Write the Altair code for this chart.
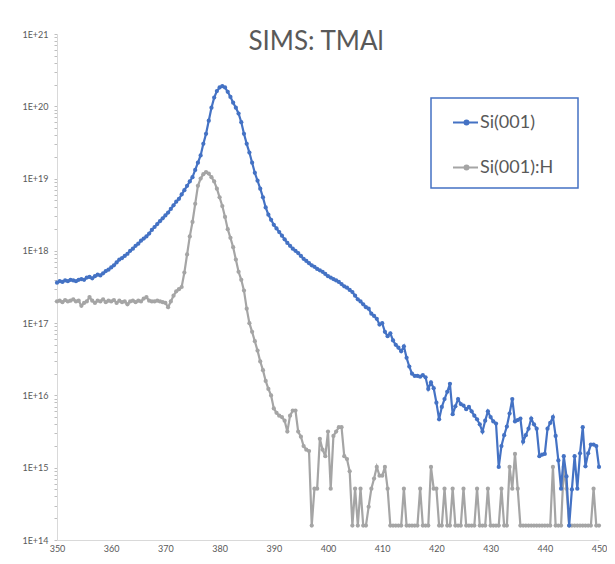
import altair as alt
import pandas as pd

# depth axis sampling: first depth and spacing of the measured points
START = 350
STEP = 0.5

series_names = ["Si(001)", "Si(001):H"]
series_colors = ["#4472C4", "#A5A5A5"]

# log10 of concentration, one value every 0.5 depth unit (350 .. 450)
blue_log = [
    17.56, 17.58, 17.57, 17.59, 17.58, 17.60, 17.59, 17.58, 17.60, 17.61,
    17.60, 17.63, 17.64, 17.62, 17.65, 17.67, 17.66, 17.69, 17.72, 17.74,
    17.77, 17.80, 17.84, 17.88, 17.90, 17.93, 17.96, 18.00, 18.03, 18.07,
    18.10, 18.14, 18.17, 18.20, 18.24, 18.29, 18.33, 18.37, 18.41, 18.45,
    18.49, 18.53, 18.58, 18.63, 18.68, 18.72, 18.78, 18.84, 18.90, 18.96,
    19.02, 19.12, 19.22, 19.32, 19.48, 19.62, 19.80, 19.98, 20.12, 20.21,
    20.26, 20.28, 20.26, 20.20, 20.13, 20.05, 19.98, 19.90, 19.78, 19.62,
    19.48, 19.36, 19.22, 19.08, 18.97, 18.86, 18.74, 18.60, 18.50, 18.43,
    18.36, 18.31, 18.26, 18.21, 18.16, 18.11, 18.07, 18.03, 18.00, 17.97,
    17.93, 17.89, 17.86, 17.83, 17.80, 17.78, 17.75, 17.73, 17.71, 17.68,
    17.65, 17.63, 17.61, 17.59, 17.57, 17.54, 17.51, 17.49, 17.46, 17.43,
    17.38, 17.33, 17.30, 17.26, 17.22, 17.20, 17.13, 17.10, 17.06, 16.98,
    17.00, 16.88, 16.82, 16.86, 16.76, 16.70, 16.66, 16.61, 16.68, 16.52,
    16.40, 16.30, 16.27, 16.27, 16.26, 16.28, 16.25, 16.09, 16.18, 16.10,
    15.90, 15.67, 15.84, 15.95, 16.05, 16.16, 15.74, 15.85, 15.95, 15.88,
    15.86, 15.81, 15.84, 15.78, 15.72, 15.67, 15.60, 15.50, 15.65, 15.78,
    15.70, 15.64, 15.61, 15.01, 15.30, 15.45, 15.57, 15.75, 15.95, 15.64,
    15.66, 15.68, 15.36, 15.45, 15.54, 15.68, 15.60, 15.54, 15.16, 15.18,
    15.19, 15.54, 15.62, 15.70, 15.44, 15.10, 14.71, 15.16, 14.88, 14.20,
    14.70, 15.16, 14.71, 15.20, 15.56, 15.02, 15.20, 15.32, 15.32, 15.30,
    15.01,
]

grey_log = [
    17.30, 17.31, 17.29, 17.32, 17.30, 17.31, 17.33, 17.30, 17.31, 17.24,
    17.28, 17.30, 17.36, 17.31, 17.28, 17.31, 17.30, 17.33, 17.29, 17.31,
    17.30, 17.32, 17.28, 17.31, 17.29, 17.30, 17.26, 17.30, 17.31, 17.29,
    17.31, 17.30, 17.34, 17.36, 17.31, 17.30, 17.30, 17.31, 17.30, 17.29,
    17.28, 17.22, 17.30, 17.38, 17.44, 17.47, 17.50, 17.70, 17.95, 18.20,
    18.40, 18.65, 18.90, 19.00, 19.06, 19.09, 19.07, 19.02, 18.96, 18.86,
    18.74, 18.62, 18.47, 18.30, 18.18, 18.05, 17.88, 17.71, 17.60, 17.45,
    17.20, 17.00, 16.88, 16.75, 16.62, 16.47, 16.35, 16.20, 16.09, 16.00,
    15.82, 15.76, 15.72, 15.70, 15.65, 15.50, 15.72, 15.79, 15.79, 15.50,
    15.43, 15.30, 15.25, 15.23, 14.20, 14.71, 14.71, 15.40, 15.25, 15.16,
    15.50, 14.71, 15.44, 15.50, 15.56, 15.56, 15.16, 15.12, 14.95, 14.20,
    14.71, 14.20, 14.71, 14.20, 14.20, 14.46, 14.71, 14.85, 15.01, 14.89,
    14.89, 15.01, 14.71, 14.20, 14.20, 14.20, 14.20, 14.20, 14.71, 14.20,
    14.20, 14.20, 14.20, 14.20, 14.71, 14.20, 14.20, 14.20, 15.01, 14.71,
    14.71, 14.20, 14.20, 14.71, 14.20, 14.20, 14.71, 14.20, 14.20, 14.20,
    14.71, 14.20, 14.20, 14.20, 14.20, 14.71, 14.20, 14.20, 14.20, 14.71,
    14.20, 14.20, 14.20, 14.20, 14.71, 14.20, 14.20, 15.01, 14.71, 15.19,
    14.71, 14.20, 14.20, 14.20, 14.20, 14.20, 14.20, 14.20, 14.20, 14.20,
    14.20, 14.20, 14.20, 15.01, 14.20, 14.20, 14.20, 15.01, 14.71, 14.20,
    14.20, 14.20, 14.20, 14.20, 14.20, 14.20, 14.20, 14.20, 14.71, 14.20,
    14.20,
]

x_ticks = [350, 360, 370, 380, 390, 400, 410, 420, 430, 440, 450]
decades = [14, 15, 16, 17, 18, 19, 20, 21]

rows = []
for name, vals in zip(series_names, [blue_log, grey_log]):
    for i, v in enumerate(vals):
        rows.append({"depth": START + STEP * i, "conc": 10.0 ** v, "series": name})
df = pd.DataFrame(rows)

y_tick_values = [float(m * 10 ** e) for e in decades[:-1] for m in range(1, 10)] + [1e21]

FONT = "Lato"
GREY_TXT = "#595959"

x_enc = alt.X(
    "depth:Q",
    scale=alt.Scale(domain=[350, 450], nice=False, zero=False),
    axis=alt.Axis(
        values=x_ticks, title=None, grid=False, ticks=False,
        domainColor="#d9d9d9", labelFont=FONT, labelFontSize=9,
        labelColor=GREY_TXT, labelPadding=4, labelFlush=False,
    ),
)
y_enc = alt.Y(
    "conc:Q",
    scale=alt.Scale(type="log", domain=[1e14, 1e21], nice=False),
    axis=alt.Axis(
        values=y_tick_values, title=None, grid=False, tickSize=3,
        tickColor="#bfbfbf", domainColor="#d9d9d9", labelFont=FONT,
        labelFontSize=9, labelColor=GREY_TXT, labelPadding=6,
        labelOverlap=False, labelFlush=False,
        labelExpr="(abs(log(datum.value)/LN10 - round(log(datum.value)/LN10)) < 0.01) ? '1E+' + round(log(datum.value)/LN10) : ''",
    ),
)
color_enc = alt.Color(
    "series:N",
    scale=alt.Scale(domain=series_names, range=series_colors),
    legend=alt.Legend(
        title="MM", titleOrient="right", titleOpacity=0, titleFontSize=8,
        titlePadding=0,
        orient="none", legendX=374, legendY=64,
        symbolType="M-0.2,0H1.8M1.04,0A0.16,0.16,0,1,1,0.72,0A0.16,0.16,0,1,1,1.04,0Z",
        symbolSize=625, symbolStrokeWidth=2,
        labelFont=FONT, labelFontSize=18, labelColor=GREY_TXT, labelOffset=11,
        padding=11, rowPadding=22, strokeColor="#4472C4", fillColor="white",
    ),
)

base = alt.Chart(df)
layers = []
for name in reversed(series_names):  # grey drawn first, blue on top
    sub = base.transform_filter(alt.datum.series == name)
    layers.append(sub.mark_line(strokeWidth=2.2).encode(x=x_enc, y=y_enc, color=color_enc))
    layers.append(sub.mark_point(filled=True, size=18, opacity=1).encode(x=x_enc, y=y_enc, color=color_enc))

chart = alt.layer(*layers).properties(
    width=542,
    height=506,
    autosize="none",
    padding={"left": 49, "top": 26, "right": 8, "bottom": 12},
    title=alt.TitleParams(
        "SIMS: TMAl", font=FONT, fontSize=26, fontWeight="normal",
        color=GREY_TXT, anchor="middle", baseline="alphabetic",
        offset=0, dy=46, dx=-12,
    ),
).configure_view(strokeWidth=0).configure_legend(strokeWidth=1.5)

chart.save("out.html", embed_options={"renderer": "svg", "actions": False})
